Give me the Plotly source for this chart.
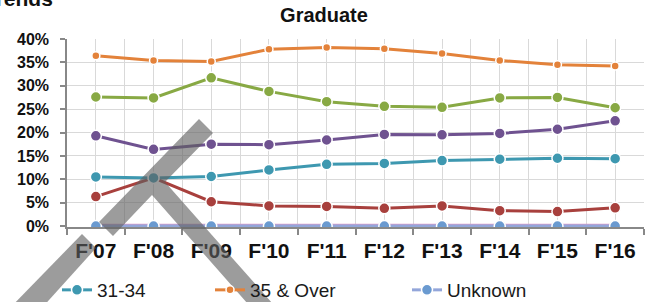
import plotly.graph_objects as go

categories = ["F'07", "F'08", "F'09", "F'10", "F'11", "F'12", "F'13", "F'14", "F'15", "F'16"]

over_35 = [36.4, 35.4, 35.2, 37.8, 38.2, 37.9, 36.9, 35.4, 34.5, 34.2]
age_26_30 = [27.6, 27.4, 31.7, 28.8, 26.6, 25.6, 25.4, 27.4, 27.5, 25.3]
age_22_25 = [19.3, 16.4, 17.5, 17.4, 18.4, 19.6, 19.5, 19.8, 20.7, 22.5]
age_31_34 = [10.5, 10.3, 10.6, 12.0, 13.2, 13.4, 14.0, 14.3, 14.5, 14.4]
under_22 = [6.3, 10.3, 5.2, 4.3, 4.2, 3.8, 4.3, 3.3, 3.1, 3.9]
unknown = [0, 0, 0, 0, 0, 0, 0, 0, 0, 0]
not_reported = [0, 0, 0, 0, 0, 0, 0, 0, 0, 0]

y_ticks = [0, 5, 10, 15, 20, 25, 30, 35, 40]
boundaries = [i - 0.5 for i in range(len(categories) + 1)]

FONT = "Liberation Sans, Arial, sans-serif"
W, H = 652, 302
L, R, T, B = 67, 644, 39, 227

xs = list(range(len(categories)))


def pct(v):
    return [a / 100 for a in v]


fig = go.Figure()

series = [
    ("Not Reported", not_reported, "#D99BC8", "#D99BC8", 0, 4.5, False, None),
    ("Unknown", unknown, "#93A6DA", "#6A9AD0", 11, 3, True, "legend3"),
    ("Under 22", under_22, "#A8403D", "#A8403D", 11, 3, False, None),
    ("31-34", age_31_34, "#3E98B0", "#3E98B0", 11, 3, True, "legend"),
    ("22-25", age_22_25, "#6F5290", "#6F5290", 11, 3, False, None),
    ("26-30", age_26_30, "#88A944", "#88A944", 11, 3, False, None),
    ("35 & Over", over_35, "#E3823A", "#E3823A", 8, 3, True, "legend2"),
]

for name, vals, lc, mc, ms, lw, show, lg in series:
    kw = dict(
        x=xs, y=pct(vals), name=name,
        mode="lines+markers" if ms else "lines",
        line=dict(color=lc, width=lw),
        showlegend=show,
    )
    if ms:
        kw["marker"] = dict(color=mc, size=ms, symbol="circle",
                            line=dict(color="white", width=1.5))
    if lg:
        kw["legend"] = lg
    fig.add_trace(go.Scatter(**kw))


def px(x):
    return (x - L) / (R - L)


def py(y):
    return (B - y) / (B - T)


def path(points):
    return "M " + " L ".join(f"{px(a):.5f},{py(b):.5f}" for a, b in points) + " Z"


wm = "rgba(95,95,95,0.62)"
fig.add_shape(type="path", xref="paper", yref="paper", layer="above", line=dict(width=0), fillcolor=wm,
              path=path([(199, 119), (213, 133), (165, 182), (280, 312), (255, 312), (152, 195),
                         (113, 236), (99, 222)]))
fig.add_shape(type="path", xref="paper", yref="paper", layer="above", line=dict(width=0), fillcolor=wm,
              path=path([(82, 234), (96, 248), (40, 310), (8, 310)]))

legend_common = dict(orientation="h", xref="container", yref="container", yanchor="middle",
                     xanchor="left", y=1 - 290 / H, bgcolor="rgba(0,0,0,0)",
                     font=dict(family=FONT, size=19, color="#1a1a1a"), itemwidth=30,
                     tracegroupgap=0)

fig.update_layout(
    width=W, height=H, autosize=False,
    margin=dict(l=L, r=W - R, t=T, b=H - B, pad=0, autoexpand=False),
    paper_bgcolor="white", plot_bgcolor="white",
    font=dict(family=FONT, color="#111"),
    title=dict(text="Graduate", x=324 / W, xanchor="center", xref="container",
               y=1 - 15 / H, yref="container", yanchor="middle",
               font=dict(family=FONT, size=20, weight="bold", color="#111")),
    legend=dict(x=57 / W, **legend_common),
    legend2=dict(x=210 / W, **legend_common),
    legend3=dict(x=407 / W, **legend_common),
    xaxis=dict(
        range=[-0.5, 9.5], tickvals=xs, ticktext=categories, ticks="",
        showgrid=True, gridcolor="#d9d9d9", gridwidth=1, zeroline=False,
        showline=True, linecolor="#888888", linewidth=1.5,
        tickfont=dict(family=FONT, size=21, weight="bold", color="#111"),
        ticklabelstandoff=4, automargin=False,
        minor=dict(tickvals=boundaries, ticks="outside", ticklen=6, tickcolor="#888888",
                   tickwidth=1.5, showgrid=True, gridcolor="#d9d9d9", gridwidth=1),
    ),
    yaxis=dict(
        range=[-0.002, 0.40], tickvals=[v / 100 for v in y_ticks], tickformat=".0%",
        ticks="outside", ticklen=5, tickcolor="#888888", tickwidth=1.5,
        showline=True, linecolor="#888888", linewidth=1.5,
        showgrid=True, gridcolor="#d9d9d9", gridwidth=1, zeroline=False,
        tickfont=dict(family=FONT, size=16, weight="bold", color="#111"),
        ticklabelstandoff=8, automargin=False,
    ),
)

fig.add_annotation(text="Trends", xref="paper", yref="paper", x=px(55), xanchor="right",
                   y=py(12), yanchor="bottom", showarrow=False,
                   font=dict(family=FONT, size=21, weight="bold", color="#111"))

fig.write_html("out.html", config={"displayModeBar": False},
               post_script="document.body.style.margin='0';document.body.style.padding='0';")
